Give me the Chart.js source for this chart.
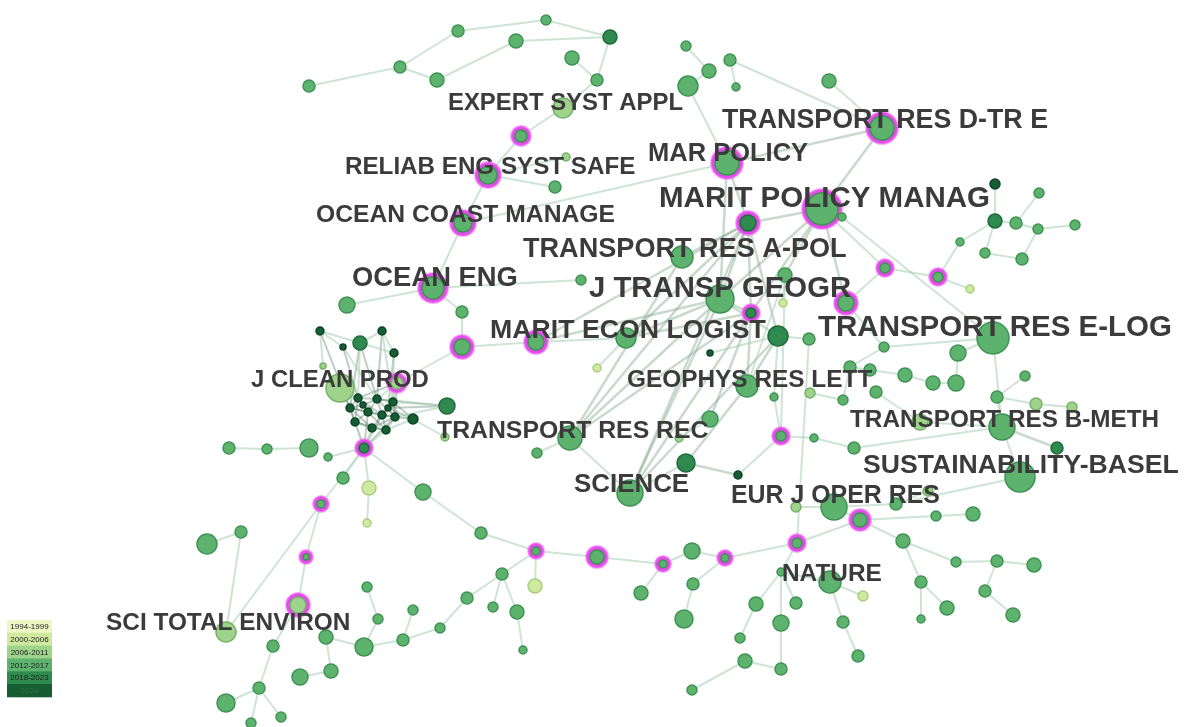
<!DOCTYPE html>
<html>
<head>
<meta charset="utf-8">
<script src="https://cdn.jsdelivr.net/npm/chart.js@4/dist/chart.umd.min.js"></script>
<style>
  html, body { margin: 0; padding: 0; background: #fff; overflow: hidden; width: 1184px; height: 727px; }
  #net { display: block; }
</style>
</head>
<body>
<canvas id="net" width="1184" height="727"></canvas>
<script>
// journal co-citation network, coordinates (image space)
var nodeX = [309,400,437,458,516,546,610,572,597,563, 521,566,488,555,463,433,581,686,709,730,
  736,688,829,882,727,822,842,748,682,785, 995,995,1039,1016,1038,1075,960,985,1022,885,
  938,970,783,720,846,751,778,809,884,347, 462,462,536,597,626,320,360,382,343,394,
  323,340,397,358,377,393,350,368,382,395, 355,372,386,363,388,447,413,445,229,267,
  309,328,364,343,369,367,423,321,306,298, 207,241,226,367,378,413,326,364,403,440,
  467,493,502,517,523,535,536,597,481,273, 300,331,259,281,251,226,570,537,710,993,
  958,850,870,905,933,956,1025,997,876,843, 810,774,747,1036,1072,920,1002,1057,710,679,
  781,814,854,686,738,630,1020,928,896,834, 796,860,936,973,797,903,692,725,663,693,
  641,684,781,830,863,956,997,1034,921,985, 947,921,1013,756,796,781,843,740,858,745,
  781,692];
var nodeY = [86,67,80,31,41,20,37,58,80,108, 136,157,175,187,223,288,280,46,71,60,
  87,86,81,128,163,209,217,223,257,275, 184,221,193,223,229,225,242,253,259,268,
  277,289,303,299,303,313,336,339,347,305, 312,347,342,368,338,331,343,331,347,353,
  366,388,383,398,399,402,408,412,415,417, 422,428,430,405,408,406,419,437,448,449,
  448,457,448,478,488,523,492,504,557,605, 544,532,632,587,619,610,637,647,640,628,
  598,607,574,612,650,586,551,557,533,646, 677,671,688,717,723,703,438,453,353,338,
  353,367,370,375,383,383,376,397,392,400, 393,397,386,404,407,422,427,448,419,438,
  436,438,448,463,475,493,477,491,504,507, 507,520,516,514,543,541,551,558,564,584,
  593,619,572,582,596,562,561,565,582,591, 608,619,615,604,603,623,622,638,656,661,
  669,690];
var nodeR = [6,6,7,6,7,5,7,7,6,10, 9,4,12,6,12,14,5,5,7,6,
  4,10,7,15,15,19,4,11,11,7, 5,7,5,6,5,5,4,5,6,8,
  8,4,4,14,11,8,10,6,5,8, 6,11,11,4,10,4,7,4,3,4,
  3,14,9,4,4,4,4,4,4,4, 4,4,4,3,3,8,5,4,6,5,
  9,4,8,6,7,4,8,7,6,11, 10,6,10,5,5,5,7,9,6,5,
  6,5,6,7,4,7,7,10,6,6, 8,7,6,5,5,9,12,5,3,16,
  8,6,6,7,7,8,5,6,6,5, 5,4,11,6,5,8,13,6,8,4,
  8,4,6,9,4,13,15,5,6,13, 5,10,5,7,8,7,8,7,7,6,
  7,9,4,11,5,5,6,7,6,6, 7,4,7,7,6,8,6,5,6,7,
  6,5];
// time slice index: 0 1994-1999 ... 5 2024
var nodeSlice = [3,3,3,3,3,3,4,3,3,2, 3,2,3,3,3,3,3,3,3,3,
  3,3,3,3,3,3,3,4,3,3, 5,4,3,3,3,3,3,3,3,3,
  3,1,1,3,3,4,4,3,3,3, 3,3,3,1,3,5,4,5,5,5,
  2,2,2,5,5,5,5,5,5,5, 5,5,5,5,5,4,5,2,3,3,
  3,3,4,3,1,1,3,3,3,2, 3,3,2,3,3,3,3,3,3,3,
  3,3,3,3,3,1,3,3,3,3, 3,3,3,3,3,3,3,3,5,3,
  3,3,3,3,3,3,3,3,3,3, 2,3,3,2,2,2,3,4,3,2,
  3,3,3,4,5,3,3,2,3,3, 2,3,3,3,3,3,3,3,3,3,
  3,3,3,3,1,3,3,3,3,3, 3,3,3,3,3,3,3,3,3,3,
  3,3];
// high betweenness centrality (purple ring)
var nodeHub = [10,12,14,15,23,24,25,27,39,40,44,45,51,52,62,82,87,88,89,106,107,140,151,154,157,158];

var strongLinks = [[23,25],[24,23],[25,27],[25,43],[25,45],[25,29],[25,44],[27,43],[27,45],[27,46],
  [27,28],[27,54],[24,43],[24,27],[43,45],[43,54],[43,116],[43,145],[43,52],[45,132],[45,138],
  [45,145],[45,116],[27,116],[27,145],[46,145],[28,116],[46,132],[43,46],[132,143],[143,144],
  [136,137],[27,52],[45,54]];
var links = [[0,1],[1,3],[1,2],[2,4],[3,5],[4,6],[5,6],[7,8],[6,8],[8,9],[9,10],[10,12],[12,11],
  [12,13],[12,14],[14,15],[15,16],[15,50],[15,49],[17,18],[19,20],[19,23],[22,23],[21,24],[24,14],
  [25,26],[26,119],[25,39],[39,40],[40,36],[40,41],[31,30],[31,33],[33,32],[33,34],[34,35],[34,38],
  [37,38],[31,37],[31,36],[29,42],[29,132],[44,39],[46,47],[46,118],[47,154],[29,140],[52,54],
  [54,53],[51,50],[51,52],[51,62],[18,21],
  [55,56],[56,57],[55,58],[56,59],[57,59],[55,60],[56,63],[57,65],[58,64],[59,65],[61,63],[62,65],[62,64],
  [75,65],[75,69],[76,69],[76,72],[76,77],[82,70],[82,71],[82,72],[78,79],[79,80],[81,82],[82,83],
  [82,84],[84,85],[82,86],[86,108],[82,87],[87,88],[88,89],[89,109],[109,112],[112,115],[112,114],
  [112,113],[110,111],[111,96],[90,91],[91,92],[87,92],
  [108,106],[106,102],[102,100],[102,101],[102,103],[103,104],[106,105],[100,99],[99,98],[98,97],
  [97,96],[97,94],[94,93],[98,95],[106,107],[107,158],[158,156],[156,157],[158,160],[157,159],
  [159,161],[157,154],[154,151],[151,149],[151,155],[155,165],[165,166],[166,167],[155,168],
  [168,171],[168,170],[169,172],[166,169],[151,152],[152,153],[154,162],[162,173],[162,174],
  [162,175],[175,180],[180,179],[179,181],[173,177],[163,164],[163,176],[176,178],[162,163],
  [116,117],[116,145],[143,145],[138,139],[140,131],[140,144],
  [119,120],[120,125],[124,125],[123,124],[122,123],[121,122],[121,129],[129,130],[135,128],
  [136,119],[136,146],[136,127],[127,126],[127,133],[133,134],[142,136],[146,148],[148,147],
  [149,148],[119,48],[48,121],[141,140],[141,142],[150,149],[135,136],[44,48],[46,131]];
// dense 2024 cluster below J CLEAN PROD
var clusterLinks = [[63,64],[64,65],[63,66],[66,67],[67,68],[68,69],[65,69],[66,70],[70,71],[71,72],
  [72,69],[63,67],[64,68],[73,67],[74,68],[73,64],[74,65],[70,67],[71,68],[72,68],[63,73],[74,69],
  [66,73],[63,68],[64,69],[66,71],[70,72],[67,72],[65,68],[63,70],[64,67],[65,74],[66,68],[69,71],
  [82,66],[82,67],[82,68],[82,69],[76,65],[76,68],[76,74],[75,74],[75,64],[56,64],[56,66],[57,64],
  [59,74],[61,66],[62,63],[62,69],[55,66],[58,63]];

var sliceNames = ['1994-1999','2000-2006','2006-2011','2012-2017','2018-2023','2024'];
var sliceFill = ['#eef6c4','#cfe9a0','#9fd28a','#5db36e','#2f8a4f','#175d34'];
var sliceEdge = ['#c8dc95','#a9cf7e','#74b46a','#3f9354','#1f6b3c','#0d4425'];

var labelText = ['EXPERT SYST APPL','TRANSPORT RES D-TR E','MAR POLICY','RELIAB ENG SYST SAFE',
  'MARIT POLICY MANAG','OCEAN COAST MANAGE','TRANSPORT RES A-POL','OCEAN ENG','J TRANSP GEOGR',
  'MARIT ECON LOGIST','TRANSPORT RES E-LOG','J CLEAN PROD','GEOPHYS RES LETT','TRANSPORT RES B-METH',
  'TRANSPORT RES REC','SUSTAINABILITY-BASEL','SCIENCE','EUR J OPER RES','NATURE','SCI TOTAL ENVIRON'];
var labelX = [448,722,648,345,659,316,523,352,589,490,818,251,627,850,437,863,574,731,782,106];
var labelY = [102,120,153,166,198,214,249,277,288,330,327,379,379,419,430,465,484,495,573,622];
var labelW = [235,326,160,291,331,299,324,166,262,276,354,178,245,309,271,316,115,209,100,244];

var W = 1184, H = 727;

// ---- build datasets ----
function edgeSet(pair, col, w) {
  return {
    type: 'line',
    data: [{x: nodeX[pair[0]], y: nodeY[pair[0]]}, {x: nodeX[pair[1]], y: nodeY[pair[1]]}],
    borderColor: col,
    borderWidth: w,
    pointRadius: 0,
    fill: false,
    clip: false,
    order: 10
  };
}

function buildDatasets() {
  var datasets = [];
  links.forEach(function(p){ datasets.push(edgeSet(p, 'rgba(165,205,178,0.55)', 2)); });
  clusterLinks.forEach(function(p){ datasets.push(edgeSet(p, 'rgba(70,115,88,0.35)', 2)); });
  strongLinks.forEach(function(p){ datasets.push(edgeSet(p, 'rgba(120,160,132,0.4)', 2.5)); });

  // purple rings behind the hub nodes
  datasets.push({
    type: 'bubble',
    data: nodeHub.map(function(i){ return {x: nodeX[i], y: nodeY[i], r: nodeR[i] + 1}; }),
    backgroundColor: 'rgba(226,58,232,0.92)',
    borderColor: 'rgba(240,120,245,0.6)',
    borderWidth: 2,
    clip: false,
    order: 5
  });

  for (var s = 0; s < sliceNames.length; s++) {
    var pts = [];
    for (var i = 0; i < nodeX.length; i++) {
      if (nodeSlice[i] !== s) continue;
      var hub = nodeHub.indexOf(i) >= 0;
      pts.push({x: nodeX[i], y: nodeY[i], r: hub ? nodeR[i] - 3 : nodeR[i]});
    }
    datasets.push({
      type: 'bubble',
      label: sliceNames[s],
      data: pts,
      backgroundColor: sliceFill[s],
      borderColor: sliceEdge[s],
      borderWidth: 1.5,
      clip: false,
      order: 1
    });
  }
  return datasets;
}

var labelPlugin = {
  id: 'labels',
  afterDatasetsDraw: function(chart) {
    var c = chart.ctx, sx = chart.scales.x, sy = chart.scales.y;
    c.save();
    c.textAlign = 'left';
    c.textBaseline = 'middle';
    c.fillStyle = '#3b3b3b';
    for (var k = 0; k < labelText.length; k++) {
      c.font = 'bold 100px "Liberation Sans", Arial, sans-serif';
      var size = 100 * labelW[k] / c.measureText(labelText[k]).width;
      c.font = 'bold ' + size.toFixed(1) + 'px "Liberation Sans", Arial, sans-serif';
      c.fillText(labelText[k], sx.getPixelForValue(labelX[k]), sy.getPixelForValue(labelY[k]) + 1);
    }
    c.restore();
  }
};

var sliceLegend = {
  id: 'sliceLegend',
  afterDraw: function(chart) {
    var c = chart.ctx, a = chart.chartArea;
    var x = a.left + 7, y = a.top + 620, w = 45, h = 12.8;
    c.save();
    c.font = '8px "Liberation Sans", Arial, sans-serif';
    c.textAlign = 'center';
    c.textBaseline = 'middle';
    for (var k = 0; k < sliceNames.length; k++) {
      c.fillStyle = sliceFill[k];
      c.fillRect(x, y + k * h, w, h + 0.5);
      c.fillStyle = k < 5 ? '#222' : '#2f6e42';
      c.fillText(sliceNames[k], x + w / 2, y + k * h + h / 2 + 0.5);
    }
    c.restore();
  }
};

function makeChart(canvas, withPlugins) {
  return new Chart(canvas.getContext('2d'), {
    type: 'bubble',
    data: { datasets: buildDatasets() },
    options: {
      responsive: false,
      animation: false,
      devicePixelRatio: 1,
      events: [],
      layout: { padding: 0 },
      scales: {
        x: { type: 'linear', min: 0, max: W, display: false },
        y: { type: 'linear', min: 0, max: H, reverse: true, display: false }
      },
      plugins: { legend: { display: false }, tooltip: { enabled: false } }
    },
    plugins: withPlugins ? [labelPlugin, sliceLegend] : []
  });
}

// bubbles make Chart.js pad the plot area; measure that padding, then grow the canvas
// by it and shift it back so the plot area covers exactly the 1184x727 window
var canvas = document.getElementById('net');
var probe = makeChart(canvas, false);
var pad = Math.ceil(Math.max(probe.chartArea.left, probe.chartArea.top));
probe.destroy();
canvas.width = W + 2 * pad;
canvas.height = H + 2 * pad;
canvas.style.width = (W + 2 * pad) + 'px';
canvas.style.height = (H + 2 * pad) + 'px';
canvas.style.margin = (-pad) + 'px 0 0 ' + (-pad) + 'px';
var chart = makeChart(canvas, true);
</script>
</body>
</html>
